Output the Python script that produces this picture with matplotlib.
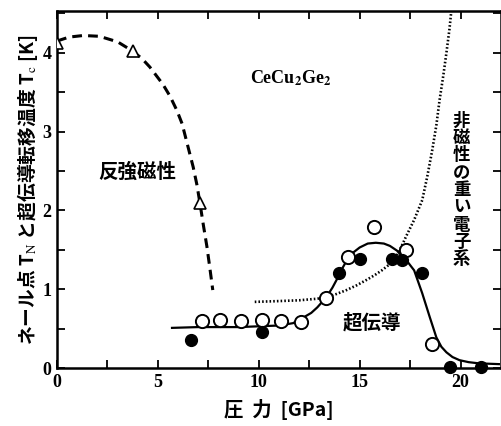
import matplotlib
matplotlib.use("Agg")
import matplotlib.pyplot as plt
from matplotlib.ticker import MultipleLocator

plt.rcParams['font.family'] = ['Noto Sans CJK JP', 'DejaVu Sans']
plt.rcParams['mathtext.fontset'] = 'stix'

# Antiferromagnetic T_N (open triangles) and dashed guide
tn_p = [0.0, 3.75, 7.08]
tn_t = [4.12, 4.02, 2.1]
tn_curve_p = [0.0, 0.6, 1.3, 2.1, 3.0, 3.7, 4.2, 4.6, 5.25, 5.6, 5.94, 6.2, 6.5, 6.75, 6.93,
              7.08, 7.25, 7.43, 7.58, 7.72]
tn_curve_t = [4.15, 4.2, 4.22, 4.21, 4.14, 4.03, 3.93, 3.82, 3.6, 3.45, 3.27, 3.1, 2.8, 2.55,
              2.33, 2.1, 1.82, 1.54, 1.26, 0.99]

# Tc open circles
tc_open_p = [7.2, 8.07, 9.1, 10.15, 11.1, 12.1, 13.35, 14.4, 15.7, 17.3, 18.6]
tc_open_t = [0.6, 0.61, 0.6, 0.61, 0.6, 0.59, 0.89, 1.41, 1.79, 1.5, 0.3]

# Tc filled circles
tc_fill_p = [6.63, 10.15, 14.0, 15.0, 16.6, 17.1, 18.1, 19.5, 21.0]
tc_fill_t = [0.36, 0.46, 1.2, 1.39, 1.39, 1.37, 1.21, 0.01, 0.01]

# Solid Tc guide line
sc_p = [5.7, 7.0, 8.0, 9.0, 10.0, 11.0, 11.7, 12.2, 12.6, 12.9, 13.35, 13.65, 13.9, 14.15,
        14.35, 14.65, 15.0, 15.4, 15.8, 16.2, 16.5, 16.85, 17.13, 17.4, 17.7, 18.1, 18.47,
        18.8, 19.05, 19.3, 19.6, 19.95, 20.4, 20.9, 21.9]
sc_t = [0.51, 0.52, 0.52, 0.52, 0.53, 0.54, 0.57, 0.64, 0.7, 0.77, 0.9, 1.02, 1.14, 1.27,
        1.36, 1.46, 1.53, 1.58, 1.59, 1.58, 1.55, 1.49, 1.41, 1.34, 1.24, 0.95, 0.65,
        0.39, 0.27, 0.2, 0.14, 0.1, 0.075, 0.06, 0.05]

# Dotted line (heavy fermion scale)
hf_p = [9.8, 11.0, 12.0, 12.9, 13.35, 13.85, 14.35, 14.85, 15.35, 15.75, 16.1, 16.5, 16.8,
        17.05, 17.3, 17.7, 18.1, 18.35, 18.6, 18.8, 18.96, 19.15, 19.3, 19.45, 19.55]
hf_t = [0.84, 0.85, 0.86, 0.88, 0.9, 0.94, 0.99, 1.05, 1.12, 1.18, 1.24, 1.32, 1.41,
        1.53, 1.67, 1.88, 2.13, 2.43, 2.77, 3.08, 3.4, 3.72, 4.0, 4.3, 4.55]

xticks = [0, 5, 10, 15, 20]
yticks = [0, 1, 2, 3, 4]

fig = plt.figure(figsize=(5.01, 4.26), dpi=100)
ax = fig.add_axes([0.1138, 0.136, 0.886, 0.838])

ax.plot(tn_curve_p, tn_curve_t, color='black', lw=2.2, ls=(0, (3.2, 2.0)), zorder=2,
        solid_joinstyle='round')
ax.plot(tn_p, tn_t, ls='none', marker='^', ms=8.5, mfc='white', mec='black', mew=1.2, zorder=4)
ax.plot(sc_p, sc_t, color='black', lw=1.6, zorder=2, solid_joinstyle='round')
ax.plot(hf_p, hf_t, color='black', lw=1.9, ls=(0, (0.6, 0.8)), zorder=2)
ax.plot(tc_open_p, tc_open_t, ls='none', marker='o', ms=9.5, mfc='white', mec='black', mew=1.4,
        zorder=4)
ax.plot(tc_fill_p, tc_fill_t, ls='none', marker='o', ms=8.5, mfc='black', mec='black', zorder=5,
        clip_on=False)

ax.set_xlim(0, 22)
ax.set_ylim(0, 4.53)
ax.set_xticks(xticks)
ax.set_yticks(yticks)
ax.xaxis.set_minor_locator(MultipleLocator(2.5))
ax.yaxis.set_minor_locator(MultipleLocator(0.5))
ax.tick_params(which='both', direction='in', top=True, right=True, width=1.3, length=6)
ax.tick_params(axis='both', which='major', pad=4)
for lab in ax.get_xticklabels() + ax.get_yticklabels():
    lab.set_family('Liberation Serif')
    lab.set_fontweight('bold')
    lab.set_fontsize(13)
for s in ax.spines.values():
    s.set_linewidth(1.8)

ax.set_xlabel('圧  力  [GPa]', fontsize=14, fontweight='bold', labelpad=6)
ax.set_ylabel('ネール点 T$_\\mathrm{N}$ と超伝導転移温度 T$_\\mathrm{c}$ [K]', fontsize=13.5,
              fontweight='bold', labelpad=2)

ax.text(11.6, 3.68, 'CeCu$_\\mathbf{2}$Ge$_\\mathbf{2}$', fontsize=13, fontweight='bold',
        family='Liberation Serif', ha='center', va='center')
ax.text(4.0, 2.48, '反強磁性', fontsize=14, fontweight='bold', ha='center', va='center')
ax.text(15.6, 0.57, '超伝導', fontsize=14, fontweight='bold', ha='center', va='center')
ax.text(20.05, 2.26, '\n'.join('非磁性の重い電子系'), fontsize=12.5, fontweight='bold',
        ha='center', va='center', linespacing=0.95)

fig.savefig('out.png', dpi=100)
